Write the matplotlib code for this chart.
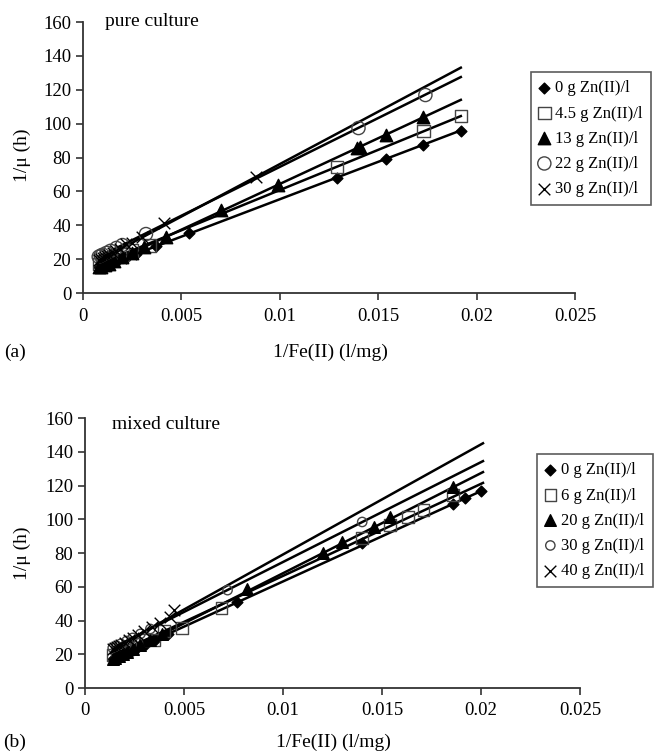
import numpy as np
import matplotlib
matplotlib.use('Agg')
import matplotlib.pyplot as plt

plt.rcParams['font.family'] = ['Liberation Serif', 'DejaVu Serif']

# ---- panel (a): pure culture ----
a_labels = ['0 g Zn(II)/l', '4.5 g Zn(II)/l', '13 g Zn(II)/l', '22 g Zn(II)/l', '30 g Zn(II)/l']
a_x = [
    [0.0008, 0.0009, 0.001, 0.0011, 0.0013, 0.0015, 0.0018, 0.0022, 0.0027, 0.0037, 0.0054, 0.0129, 0.0154, 0.0173, 0.0192],
    [0.0008, 0.001, 0.0012, 0.0014, 0.0017, 0.002, 0.0025, 0.0034, 0.0129, 0.0173, 0.0192],
    [0.0008, 0.0009, 0.0011, 0.0013, 0.0016, 0.002, 0.0025, 0.0031, 0.0042, 0.007, 0.0099, 0.0139, 0.0141, 0.0154, 0.0173],
    [0.0008, 0.0009, 0.001, 0.0012, 0.0014, 0.0017, 0.002, 0.0032, 0.014, 0.0174],
    [0.0008, 0.0009, 0.001, 0.0011, 0.0012, 0.0013, 0.0015, 0.0017, 0.0019, 0.0022, 0.0025, 0.003, 0.0041, 0.0088],
]
a_y = [
    [15.5, 15.2, 16.4, 16.1, 17.0, 17.8, 19.2, 20.9, 23.1, 27.7, 35.4, 68.0, 79.0, 87.4, 95.6],
    [17.1, 18.0, 19.0, 20.0, 21.4, 22.8, 25.2, 28.0, 74.4, 95.6, 104.5],
    [15.2, 15.3, 16.3, 17.4, 19.0, 21.2, 23.9, 27.1, 33.1, 49.0, 63.8, 85.4, 86.5, 93.3, 103.9],
    [21.4, 22.0, 22.6, 23.7, 24.9, 26.6, 28.3, 34.8, 97.4, 116.9],
    [19.2, 19.8, 20.4, 21.0, 21.6, 22.2, 23.5, 24.7, 26.0, 28.8, 29.7, 32.8, 41.5, 68.5],
]
# fitted lines: intercept, slope, x range
a_icpt = [11.2, 13.3, 10.4, 16.8, 14.2]
a_slope = [4416, 4748, 5398, 5766, 6190]
a_xrange = [0.0008, 0.0192]

# ---- panel (b): mixed culture ----
b_labels = ['0 g Zn(II)/l', '6 g Zn(II)/l', '20 g Zn(II)/l', '30 g Zn(II)/l', '40 g Zn(II)/l']
b_x = [
    [0.0014, 0.0015, 0.0016, 0.0017, 0.0019, 0.0021, 0.0024, 0.0027, 0.0031, 0.0036, 0.0042, 0.0077, 0.014, 0.0186, 0.0192, 0.02],
    [0.0014, 0.0016, 0.0018, 0.002, 0.0023, 0.0026, 0.003, 0.0035, 0.004, 0.0049, 0.0069, 0.014, 0.0154, 0.0163, 0.0171, 0.0186],
    [0.0014, 0.0015, 0.0017, 0.0019, 0.0021, 0.0024, 0.0028, 0.0033, 0.0039, 0.0082, 0.012, 0.013, 0.0146, 0.0154, 0.0186],
    [0.0014, 0.0016, 0.0018, 0.0021, 0.0024, 0.0028, 0.0033, 0.0072, 0.014],
    [0.0014, 0.0015, 0.0016, 0.0017, 0.0018, 0.002, 0.0022, 0.0024, 0.0027, 0.003, 0.0034, 0.0038, 0.0043, 0.0045],
]
b_y = [
    [17.1, 17.6, 18.2, 18.7, 19.8, 20.8, 22.5, 24.1, 26.2, 28.9, 32.1, 51.0, 85.9, 109.0, 112.6, 116.7],
    [19.5, 20.6, 21.7, 22.8, 24.4, 26.1, 28.3, 28.4, 33.7, 35.5, 47.5, 89.0, 96.6, 101.3, 105.5, 114.4],
    [17.0, 17.6, 18.8, 20.0, 21.2, 23.0, 25.3, 28.3, 31.8, 58.6, 80.3, 86.8, 95.4, 101.3, 119.1],
    [23.8, 25.0, 26.2, 27.9, 29.7, 32.1, 35.0, 58.0, 98.4],
    [23.0, 23.7, 24.3, 25.0, 25.6, 26.9, 28.3, 29.6, 31.5, 33.5, 36.1, 38.7, 42.0, 46.0],
]
b_icpt = [9.6, 11.9, 8.7, 15.5, 13.9]
b_slope = [5355, 5455, 5933, 5918, 6524]
b_xrange = [0.0014, 0.0201]

xticks = [0, 0.005, 0.01, 0.015, 0.02, 0.025]
xticklabels = ['0', '0.005', '0.01', '0.015', '0.02', '0.025']
yticks = [0, 20, 40, 60, 80, 100, 120, 140, 160]

styles_a = [
    dict(marker='D', s=30, facecolors='black', edgecolors='black'),
    dict(marker='s', s=80, facecolors='none', edgecolors='#444444', linewidths=1.0),
    dict(marker='^', s=80, facecolors='black', edgecolors='black'),
    dict(marker='o', s=90, facecolors='none', edgecolors='#444444', linewidths=1.0),
    dict(marker='x', s=70, color='black', linewidths=1.0),
]
styles_b = [
    dict(marker='D', s=30, facecolors='black', edgecolors='black'),
    dict(marker='s', s=70, facecolors='none', edgecolors='#444444', linewidths=1.0),
    dict(marker='^', s=70, facecolors='black', edgecolors='black'),
    dict(marker='o', s=45, facecolors='none', edgecolors='#444444', linewidths=1.0),
    dict(marker='x', s=70, color='black', linewidths=1.0),
]


def drawPanel(ax, xs, ys, icpt, slope, xrange_, labels, styles, title, title_pos, leg_anchor, pad):
    handles = []
    for i in range(len(xs)):
        lx = np.array(xrange_)
        ax.plot(lx, icpt[i] + slope[i] * lx, color='black', lw=1.8, zorder=2)
        h = ax.scatter(xs[i], ys[i], zorder=3, **styles[i])
        handles.append(h)

    ax.set_xlim(0, 0.025)
    ax.set_ylim(0, 160)
    ax.set_xticks(xticks)
    ax.set_xticklabels(xticklabels)
    ax.set_yticks(yticks)
    ax.tick_params(direction='out', length=5, width=1.2, labelsize=13.5, color='#333333')
    ax.tick_params(axis='x', pad=pad)
    for side in ['top', 'right']:
        ax.spines[side].set_visible(False)
    for side in ['left', 'bottom']:
        ax.spines[side].set_linewidth(1.3)
        ax.spines[side].set_color('#333333')
    ax.text(title_pos[0], title_pos[1], title, fontsize=14, va='center', ha='left')

    leg = ax.legend(handles, labels, loc='upper left', bbox_to_anchor=leg_anchor,
                    bbox_transform=ax.figure.transFigure, fontsize=12, frameon=True,
                    fancybox=False, edgecolor='#333333', handlelength=0.6, handletextpad=0.35,
                    borderpad=0.5, labelspacing=0.55, borderaxespad=0)
    leg.get_frame().set_linewidth(1.2)
    return handles


fig = plt.figure(figsize=(6.55, 7.54), dpi=100)
ax1 = fig.add_axes([0.1267, 0.6114, 0.7511, 0.3594])
ax2 = fig.add_axes([0.1298, 0.0875, 0.7557, 0.3581])

drawPanel(ax1, a_x, a_y, a_icpt, a_slope, a_xrange, a_labels, styles_a, 'pure culture',
          (0.0011, 160.5), (531 / 655, 1 - 72 / 754), 6)
drawPanel(ax2, b_x, b_y, b_icpt, b_slope, b_xrange, b_labels, styles_b, 'mixed culture',
          (0.00136, 156), (537 / 655, 1 - 454 / 754), 5)

fig.text(22 / 655, 1 - 155 / 754, '1/μ (h)', rotation=90, fontsize=14, ha='center', va='center')
fig.text(22 / 655, 1 - 553 / 754, '1/μ (h)', rotation=90, fontsize=14, ha='center', va='center')
fig.text(330 / 655, 1 - 352 / 754, '1/Fe(II) (l/mg)', fontsize=14, ha='center', va='center')
fig.text(333 / 655, 1 - 742 / 754, '1/Fe(II) (l/mg)', fontsize=14, ha='center', va='center')
fig.text(15 / 655, 1 - 352 / 754, '(a)', fontsize=14, ha='center', va='center')
fig.text(15 / 655, 1 - 742 / 754, '(b)', fontsize=14, ha='center', va='center')

plt.savefig('out.png', dpi=100)
